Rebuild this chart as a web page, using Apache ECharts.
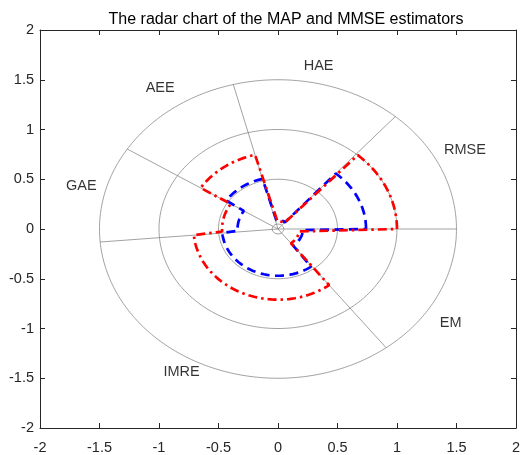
<!DOCTYPE html>
<html>
<head>
<meta charset="utf-8">
<script src="https://cdn.jsdelivr.net/npm/echarts@6/dist/echarts.min.js"></script>
<style>
  html, body { margin: 0; padding: 0; background: #ffffff; overflow: hidden; }
  #chart { width: 523px; height: 455px; }
</style>
</head>
<body>
<div id="chart"></div>
<script>
// Sector categories, ordered counter-clockwise from the positive x direction
var categories = ['RMSE', 'HAE', 'AEE', 'GAE', 'IMRE', 'EM'];
// Sector boundary angles in degrees (sector i spans boundaries[i]..boundaries[i+1])
var boundaries = [0, 48.9, 104.5, 147.6, 185, 307.3, 360];
// Normalised metric values per sector
var mapValues  = [1.00, 0.08, 0.77, 0.47, 0.71, 0.18];
var mmseValues = [0.74, 0.09, 0.52, 0.34, 0.47, 0.21];
// Reference rings and axis ticks
var ringRadii = [0.05, 0.5, 1, 1.5];

// Layout: where each category name sits (radius, angle in degrees)
var labelPolar = [[1.76, 26.8], [1.67, 78.2], [1.73, 124.9], [1.71, 165.2], [1.65, 240.6], [1.73, -33]];
var spokeLength = 1.5;

function rad(d) { return d * Math.PI / 180; }
function pt(r, deg) { return [r * Math.cos(rad(deg)), r * Math.sin(rad(deg))]; }

function arc(r, a1, a2) {
  var pts = [];
  var n = Math.max(2, Math.ceil(Math.abs(a2 - a1) / 1));
  for (var k = 0; k <= n; k++) pts.push(pt(r, a1 + (a2 - a1) * k / n));
  return pts;
}

// Closed outline: an arc per sector at its value, joined by radial steps
function outline(values) {
  var pts = [];
  for (var i = 0; i < values.length; i++) {
    pts = pts.concat(arc(values[i], boundaries[i], boundaries[i + 1]));
  }
  pts.push(pts[0].slice());
  return pts;
}

var gridColor = '#8a8a8a';
var series = [];

ringRadii.forEach(function (r) {
  series.push({
    type: 'line', data: arc(r, 0, 360), showSymbol: false, symbol: 'none',
    lineStyle: { color: gridColor, width: 0.8 }, silent: true, z: 1
  });
});

boundaries.slice(0, -1).forEach(function (a) {
  series.push({
    type: 'line', data: [[0, 0], pt(spokeLength, a)], showSymbol: false, symbol: 'none',
    lineStyle: { color: gridColor, width: 0.8 }, silent: true, z: 1
  });
});

series.push({
  name: 'MMSE', type: 'line', data: outline(mmseValues), showSymbol: false, symbol: 'none',
  lineStyle: { color: '#0000ff', width: 2.7, type: [9, 5.5], cap: 'butt' }, z: 3
});
series.push({
  name: 'MAP', type: 'line', data: outline(mapValues), showSymbol: false, symbol: 'none',
  lineStyle: { color: '#ff0000', width: 2.7, type: [9, 4, 2.5, 4], cap: 'butt' }, z: 4
});

series.push({
  type: 'scatter', symbolSize: 0, silent: true, z: 5,
  data: categories.map(function (c, i) {
    var p = pt(labelPolar[i][0], labelPolar[i][1]);
    return { value: p, name: c };
  }),
  label: {
    show: true, position: 'inside', formatter: '{b}',
    color: '#000000', fontSize: 14.5, fontFamily: 'Liberation Sans, Arial, sans-serif'
  }
});

var axisColor = '#262626';
var font = 'Liberation Sans, Arial, sans-serif';

function valueAxis(pos, showLabels) {
  return {
    type: 'value', position: pos, min: -2, max: 2, interval: 0.5,
    axisLine: { show: true, onZero: false, lineStyle: { color: axisColor, width: 1 } },
    axisTick: { show: true, inside: true, length: 5, lineStyle: { color: axisColor, width: 1 } },
    splitLine: { show: false },
    axisLabel: {
      show: showLabels, color: axisColor, fontSize: 14.5, fontFamily: font,
      margin: pos === 'bottom' ? 12 : 6,
      formatter: function (v) { return String(v); }
    }
  };
}

var option = {
  animation: false,
  backgroundColor: '#ffffff',
  title: {
    text: 'The radar chart of the MAP and MMSE estimators',
    left: 281, top: 7, textAlign: 'center',
    textStyle: { color: '#000000', fontSize: 16, fontWeight: 'normal', fontFamily: font }
  },
  grid: { left: 40, right: 1, top: 30, bottom: 22, containLabel: false },
  xAxis: [valueAxis('bottom', true), valueAxis('top', false)],
  yAxis: [valueAxis('left', true), valueAxis('right', false)],
  series: series
};

var chart = echarts.init(document.getElementById('chart'), null, { renderer: 'canvas' });
chart.setOption(option);
</script>
</body>
</html>
